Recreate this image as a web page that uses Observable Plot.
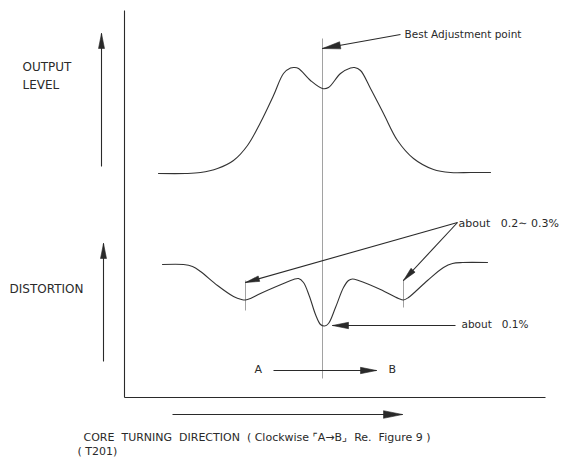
<!DOCTYPE html>
<html><head><meta charset="utf-8">
<script src="https://cdn.jsdelivr.net/npm/d3@7"></script>
<script src="https://cdn.jsdelivr.net/npm/@observablehq/plot@0.6"></script>
<style>body{margin:0;background:#fff} svg{display:block}</style>
</head><body><div id="chart"></div><script>
// Drawing units: core turning position (x) and response level (y, downward)
const outputPos   = [158,185,200,217,233,247,260,273,283,290,294,298,310,322,328,340,350,354,360,370,383,397,413,433,450,470,490];
const outputLevel = [173,173,172,168,160,145,122, 95, 73, 67.5,67, 68, 80, 88, 87, 73, 67.5,67, 70, 88,113,140,158,169,172,172,172];

const distPos   = [162,183,192,200,217,233,241,245,250,260,283,293,298,303,309,315,320,324,328,335,343,348,352,358,380,398,403,408,427,443,452,462,487];
const distLevel = [264,264,266,271,285,296,299,299.5,298,293,283,279,278,282,296,314,324,325.5,323,307,287,280,278.5,280,289,298,299.5,297,280,267,263,262,262];

// frame lines
const frameX1 = [124,124], frameY1 = [10,397], frameX2 = [124,545], frameY2 = [397,397];
// thin guide lines (best point, minima)
const guideX1 = [322,245,403], guideY1 = [38,280,279], guideX2 = [322,245,403], guideY2 = [378,310,307];

// arrows: from -> to (head at "to"), head length
const arrowX1 = [101,103,172,273,400,457,457,455];
const arrowY1 = [166,361,414,370, 34,222,222,325];
const arrowX2 = [101,103,402,376,322,245,403,332];
const arrowY2 = [ 33,243,414,370, 48,282,280,325];
const arrowHead = [15,15,19,16,18,14,14,16];

// labels
const labelText = ["OUTPUT","LEVEL","DISTORTION","Best Adjustment point","about   0.2∼ 0.3%","about   0.1%","A","B"];
const labelX    = [22,22,9,404,458,461,254,388];
const labelY    = [67,85,289,34,223,324,369,369];
const labelSize = [12,12,12,10.5,11,10.5,11,11];

const captionText = ["CORE  TURNING  DIRECTION  ( Clockwise ⌜A→B⌟  Re.  Figure 9 )","( T201)"];
const captionX = [83,77];
const captionY = [437,451];

const zip = (a,b)=>a.map((v,i)=>({x:v,y:b[i]}));
const outputData = zip(outputPos, outputLevel);
const distData = zip(distPos, distLevel);
const frames = frameX1.map((v,i)=>({x1:v,y1:frameY1[i],x2:frameX2[i],y2:frameY2[i]}));
const guides = guideX1.map((v,i)=>({x1:v,y1:guideY1[i],x2:guideX2[i],y2:guideY2[i]}));
const arrows = arrowX1.map((v,i)=>({x1:v,y1:arrowY1[i],x2:arrowX2[i],y2:arrowY2[i],L:arrowHead[i]}));
const heads = [];
arrows.forEach((a,i)=>{
  const dx=a.x2-a.x1, dy=a.y2-a.y1, d=Math.hypot(dx,dy), ux=dx/d, uy=dy/d;
  const w=a.L*0.2, bx=a.x2-ux*a.L, by=a.y2-uy*a.L;
  heads.push({id:i,x:a.x2,y:a.y2},{id:i,x:bx-uy*w,y:by+ux*w},{id:i,x:bx+uy*w,y:by-ux*w},{id:i,x:a.x2,y:a.y2});
});
const labels = labelText.map((t,i)=>({t,x:labelX[i],y:labelY[i],s:labelSize[i]}));
const captions = captionText.map((t,i)=>({t,x:captionX[i],y:captionY[i]}));

const ink = "#2a2a2a";
const chart = Plot.plot({
  width: 571, height: 464, margin: 0,
  x: {domain:[0,571], range:[0,571], axis:null},
  y: {domain:[0,464], range:[0,464], axis:null},
  style: {fontFamily: "DejaVu Sans", background:"#fff", color: ink},
  marks: [
    Plot.link(guides, {x1:"x1",y1:"y1",x2:"x2",y2:"y2", stroke:"#8a8a8a", strokeWidth:0.8}),
    Plot.link(frames, {x1:"x1",y1:"y1",x2:"x2",y2:"y2", stroke:ink, strokeWidth:1.1}),
    Plot.line(outputData, {x:"x", y:"y", curve:"catmull-rom", stroke:"#333", strokeWidth:1.1}),
    Plot.line(distData, {x:"x", y:"y", curve:"catmull-rom", stroke:"#333", strokeWidth:1.1}),
    Plot.link(arrows, {x1:"x1",y1:"y1",x2:"x2",y2:"y2", stroke:ink, strokeWidth:1.1}),
    Plot.line(heads, {x:"x", y:"y", z:"id", fill:ink, stroke:ink, strokeWidth:0.6}),
    Plot.text(labels.filter(d=>d.s===12), {x:"x", y:"y", text:"t", textAnchor:"start", fontSize:12, fill:ink}),
    Plot.text(labels.filter(d=>d.s===10.5), {x:"x", y:"y", text:"t", textAnchor:"start", fontSize:10.5, fill:ink}),
    Plot.text(labels.filter(d=>d.s===11), {x:"x", y:"y", text:"t", textAnchor:"start", fontSize:11, fill:ink}),
    Plot.text(captions, {x:"x", y:"y", text:"t", textAnchor:"start", fontSize:11, fill:ink})
  ]
});
document.getElementById("chart").append(chart);
</script></body></html>
